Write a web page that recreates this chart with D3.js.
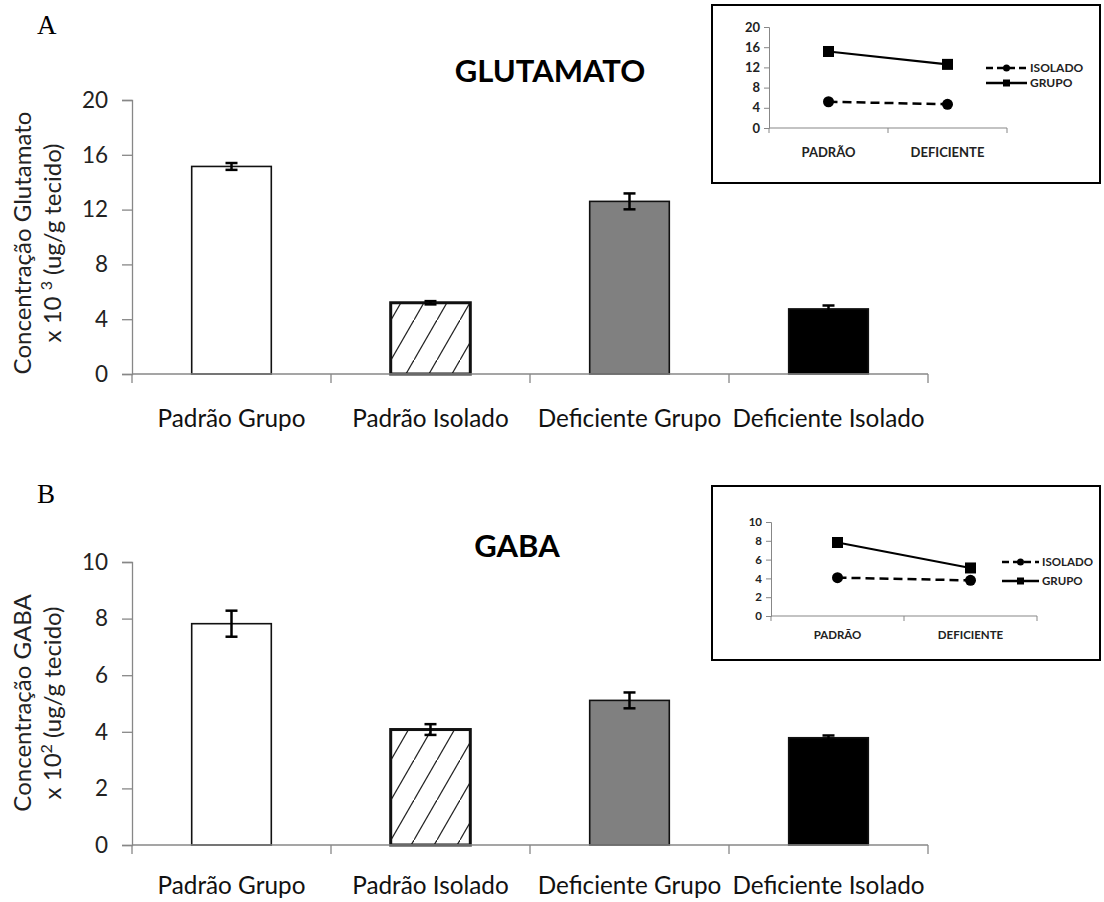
<!DOCTYPE html>
<html><head><meta charset="utf-8">
<script src="https://cdn.jsdelivr.net/npm/d3@7"></script>
<style>
html,body{margin:0;padding:0;background:#fff;}
svg{display:block;}
</style>
</head><body>
<svg id="chart" width="1104" height="902"></svg>
<script>
// ---------- data ----------
const categories = ["Padrão Grupo", "Padrão Isolado", "Deficiente Grupo", "Deficiente Isolado"];
const glutamatoValues = [15.15, 5.2, 12.6, 4.75];
const glutamatoErrors = [0.25, 0.12, 0.58, 0.25];
const gabaValues = [7.82, 4.08, 5.11, 3.79];
const gabaErrors = [0.46, 0.19, 0.28, 0.08];
const glutamatoTicks = [0, 4, 8, 12, 16, 20];
const gabaTicks = [0, 2, 4, 6, 8, 10];

const insetCategories = ["PADRÃO", "DEFICIENTE"];
const insetSeries = ["ISOLADO", "GRUPO"];
const glutamatoInsetIsolado = [5.2, 4.7];
const glutamatoInsetGrupo = [15.15, 12.6];
const gabaInsetIsolado = [4.08, 3.79];
const gabaInsetGrupo = [7.82, 5.11];

// ---------- drawing ----------
const svg = d3.select("#chart");
const FONT = "Lato, 'Open Sans', sans-serif";
const AXIS = "#878787";

const defs = svg.append("defs");
const pat = defs.append("pattern").attr("id", "hatch")
  .attr("patternUnits", "userSpaceOnUse").attr("width", 23).attr("height", 40);
pat.append("rect").attr("width", 23).attr("height", 40).attr("fill", "#fff");
pat.append("path").attr("d", "M-2.3,44 L25.3,-4").attr("stroke", "#222").attr("stroke-width", 1.2);

const fills = ["#ffffff", "url(#hatch)", "#808080", "#000000"];
const borders = [1.6, 3, 1.6, 1.6];

function barPanel(o) {
  const g = svg.append("g");
  const x = d3.scaleBand().domain(categories).range([o.x0, o.x1]).paddingInner(0.6).paddingOuter(0.3);
  const y = d3.scaleLinear().domain([0, d3.max(o.ticks)]).range([o.y0, o.y1]);

  // y axis
  const ya = g.append("g").attr("transform", `translate(${o.x0},0)`)
    .call(d3.axisLeft(y).tickValues(o.ticks).tickSize(10).tickPadding(14).tickFormat(d3.format("d")));
  ya.select(".domain").attr("stroke", AXIS).attr("stroke-width", 1.3);
  ya.selectAll(".tick line").attr("stroke", AXIS).attr("stroke-width", 1.3);
  ya.selectAll(".tick text").attr("font-family", FONT).attr("font-size", 22.5).attr("fill", "#222");

  // bars
  const data = categories.map((c, i) => ({c, v: o.values[i], e: o.errors[i], i}));
  g.selectAll("rect.bar").data(data).enter().append("rect").attr("class", "bar")
    .attr("x", d => x(d.c)).attr("width", x.bandwidth())
    .attr("y", d => y(d.v)).attr("height", d => y(0) - y(d.v))
    .attr("fill", d => fills[d.i]).attr("stroke", "#111")
    .attr("stroke-width", d => borders[d.i]);

  // x axis
  const step = x.step();
  const bounds = d3.range(categories.length + 1).map(i => o.x0 + i * step);
  g.append("line").attr("x1", o.x0).attr("x2", o.x1).attr("y1", y(0)).attr("y2", y(0))
    .attr("stroke", AXIS).attr("stroke-width", 1.3);
  g.selectAll("line.xt").data(bounds).enter().append("line").attr("class", "xt")
    .attr("x1", d => d).attr("x2", d => d).attr("y1", y(0)).attr("y2", y(0) + 9)
    .attr("stroke", AXIS).attr("stroke-width", 1.3);
  g.selectAll("text.xl").data(categories).enter().append("text").attr("class", "xl")
    .attr("x", d => x(d) + x.bandwidth() / 2).attr("y", y(0) + o.labelDy)
    .attr("text-anchor", "middle").attr("font-family", FONT).attr("font-size", 24.3).attr("fill", "#111")
    .text(d => d);

  // error bars
  const eb = g.selectAll("g.err").data(data).enter().append("g").attr("class", "err");
  eb.append("line").attr("x1", d => x(d.c) + x.bandwidth() / 2).attr("x2", d => x(d.c) + x.bandwidth() / 2)
    .attr("y1", d => y(d.v - d.e)).attr("y2", d => y(d.v + d.e));
  eb.append("line").attr("x1", d => x(d.c) + x.bandwidth() / 2 - 6).attr("x2", d => x(d.c) + x.bandwidth() / 2 + 6)
    .attr("y1", d => y(d.v + d.e)).attr("y2", d => y(d.v + d.e));
  eb.append("line").attr("x1", d => x(d.c) + x.bandwidth() / 2 - 6).attr("x2", d => x(d.c) + x.bandwidth() / 2 + 6)
    .attr("y1", d => y(d.v - d.e)).attr("y2", d => y(d.v - d.e));
  eb.selectAll("line").attr("stroke", "#000").attr("stroke-width", 2.5);

  // title
  g.append("text").attr("x", o.titleX).attr("y", o.titleY).attr("text-anchor", "middle")
    .attr("font-family", FONT).attr("font-weight", "bold").attr("font-size", 31).attr("fill", "#000")
    .text(o.title);

  // y axis title
  const yt = g.append("text").attr("transform", `translate(0,${o.ytY}) rotate(-90)`)
    .attr("text-anchor", "middle").attr("font-family", FONT).attr("font-size", 24).attr("fill", "#222");
  yt.append("tspan").attr("x", 0).attr("y", 31).text(o.yLine1);
  const l2 = yt.append("tspan").attr("x", 0).attr("y", 61);
  l2.append("tspan").text(o.yLine2a);
  l2.append("tspan").attr("dy", -9).attr("font-size", 16).text(o.yLine2sup);
  l2.append("tspan").attr("dy", 9).text(o.yLine2b);

  // panel letter
  g.append("text").attr("x", 37).attr("y", o.letterY).attr("font-family", "'Liberation Serif', 'DejaVu Serif', serif")
    .attr("font-size", 27).attr("fill", "#000").text(o.letter);
}

function inset(o) {
  const g = svg.append("g");
  g.append("rect").attr("x", o.bx0).attr("y", o.by0).attr("width", o.bx1 - o.bx0).attr("height", o.by1 - o.by0)
    .attr("fill", "#fff").attr("stroke", "#000").attr("stroke-width", 2);
  const x = d3.scalePoint().domain(insetCategories).range([o.x0, o.x1]).padding(0.5);
  const y = d3.scaleLinear().domain([0, d3.max(o.ticks)]).range([o.y0, o.y1]);
  const ya = g.append("g").attr("transform", `translate(${o.x0},0)`)
    .call(d3.axisLeft(y).tickValues(o.ticks).tickSize(5).tickPadding(4).tickFormat(d3.format("d")));
  ya.select(".domain").attr("stroke", AXIS).attr("stroke-width", 1);
  ya.selectAll(".tick line").attr("stroke", AXIS);
  ya.selectAll(".tick text").attr("font-family", FONT).attr("font-weight", "bold").attr("font-size", o.fs).attr("fill", "#222");

  const step = (o.x1 - o.x0) / insetCategories.length;
  const bounds = d3.range(insetCategories.length + 1).map(i => o.x0 + i * step);
  g.append("line").attr("x1", o.x0).attr("x2", o.x1).attr("y1", y(0)).attr("y2", y(0)).attr("stroke", AXIS).attr("stroke-width", 1);
  g.selectAll("line.xt").data(bounds).enter().append("line").attr("class", "xt")
    .attr("x1", d => d).attr("x2", d => d).attr("y1", y(0)).attr("y2", y(0) + 5).attr("stroke", AXIS);
  g.selectAll("text.xl").data(insetCategories).enter().append("text").attr("class", "xl")
    .attr("x", d => x(d)).attr("y", y(0) + o.labelDy).attr("text-anchor", "middle")
    .attr("font-family", FONT).attr("font-weight", "bold").attr("font-size", o.fs).attr("fill", "#222").text(d => d);

  const line = d3.line().x((d, i) => x(insetCategories[i])).y(d => y(d));
  // ISOLADO
  g.append("path").attr("d", line(o.isolado)).attr("fill", "none").attr("stroke", "#000")
    .attr("stroke-width", 2.5).attr("stroke-dasharray", "9,5");
  g.selectAll("circle.iso").data(o.isolado).enter().append("circle").attr("class", "iso")
    .attr("cx", (d, i) => x(insetCategories[i])).attr("cy", d => y(d)).attr("r", 5.5).attr("fill", "#000");
  // GRUPO
  g.append("path").attr("d", line(o.grupo)).attr("fill", "none").attr("stroke", "#000").attr("stroke-width", 2.2);
  g.selectAll("rect.grp").data(o.grupo).enter().append("rect").attr("class", "grp")
    .attr("x", (d, i) => x(insetCategories[i]) - 5.5).attr("y", d => y(d) - 5.5)
    .attr("width", 11).attr("height", 11).attr("fill", "#000");

  // legend
  const lg = g.append("g");
  insetSeries.forEach((s, i) => {
    const ly = o.legY[i];
    lg.append("line").attr("x1", o.legX0).attr("x2", o.legX1).attr("y1", ly).attr("y2", ly)
      .attr("stroke", "#000").attr("stroke-width", 2.5).attr("stroke-dasharray", i === 0 ? "7,4" : null);
    const mx = (o.legX0 + o.legX1) / 2;
    if (i === 0) lg.append("circle").attr("cx", mx).attr("cy", ly).attr("r", 3.5).attr("fill", "#000");
    else lg.append("rect").attr("x", mx - 3.5).attr("y", ly - 3.5).attr("width", 7).attr("height", 7).attr("fill", "#000");
    lg.append("text").attr("x", o.legX1 + 3).attr("y", ly + 4).attr("font-family", FONT).attr("font-weight", "bold")
      .attr("font-size", o.lfs).attr("fill", "#222").text(s);
  });
}

barPanel({x0: 132, x1: 928, y0: 374, y1: 100, ticks: glutamatoTicks, values: glutamatoValues, errors: glutamatoErrors,
  labelDy: 53, title: "GLUTAMATO", titleX: 550, titleY: 82, ytY: 243,
  yLine1: "Concentração Glutamato", yLine2a: "x 10 ", yLine2sup: "3", yLine2b: " (ug/g tecido)",
  letter: "A", letterY: 34});
barPanel({x0: 132, x1: 928, y0: 845, y1: 562, ticks: gabaTicks, values: gabaValues, errors: gabaErrors,
  labelDy: 49, title: "GABA", titleX: 517, titleY: 557, ytY: 703,
  yLine1: "Concentração GABA", yLine2a: "x 10", yLine2sup: "2", yLine2b: " (ug/g tecido)",
  letter: "B", letterY: 503});

inset({bx0: 712, bx1: 1100, by0: 5, by1: 183, x0: 769, x1: 1007, y0: 128, y1: 27, ticks: glutamatoTicks,
  isolado: glutamatoInsetIsolado, grupo: glutamatoInsetGrupo, labelDy: 29, fs: 13, lfs: 12,
  legX0: 986, legX1: 1027, legY: [68, 83]});
inset({bx0: 712, bx1: 1100, by0: 486, by1: 660, x0: 771, x1: 1037, y0: 616, y1: 522, ticks: gabaTicks,
  isolado: gabaInsetIsolado, grupo: gabaInsetGrupo, labelDy: 23, fs: 11.5, lfs: 11.5,
  legX0: 1002, legX1: 1039, legY: [562, 581]});
</script>
</body></html>
